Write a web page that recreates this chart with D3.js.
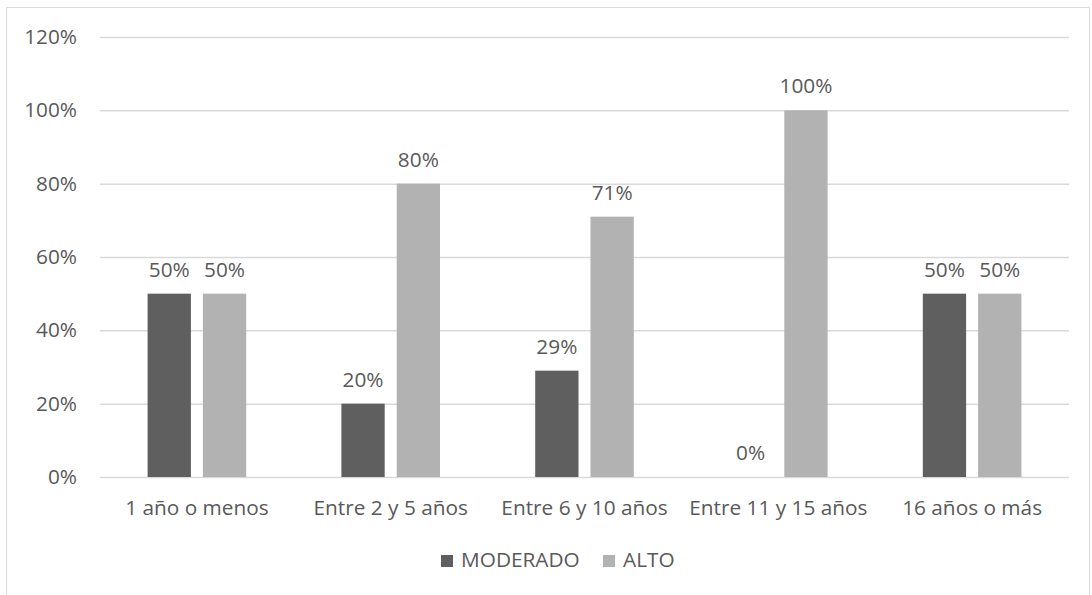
<!DOCTYPE html>
<html>
<head>
<meta charset="utf-8">
<script src="https://cdn.jsdelivr.net/npm/d3@7"></script>
<style>
  html, body { margin: 0; padding: 0; background: #fff; }
  svg { display: block; }
  text { font-family: "Open Sans", sans-serif; fill: #595959; }
</style>
</head>
<body>
<svg id="chart" width="1092" height="595"></svg>
<script>
// Years-of-experience groups and the share of each risk level
const categories = ["1 año o menos", "Entre 2 y 5 años", "Entre 6 y 10 años", "Entre 11 y 15 años", "16 años o más"];
const seriesNames = ["MODERADO", "ALTO"];
const moderado = [0.50, 0.20, 0.29, 0.00, 0.50];
const alto = [0.50, 0.80, 0.71, 1.00, 0.50];
const yTicks = [0, 0.2, 0.4, 0.6, 0.8, 1.0, 1.2];
const colors = ["#5f5f5f", "#b2b2b2"];

const svg = d3.select("#chart");
const fontSize = 20.8;

// chart frame
svg.append("rect")
  .attr("x", 6.5).attr("y", 7.5)
  .attr("width", 1083).attr("height", 620)
  .attr("fill", "#fff")
  .attr("stroke", "#d9d9d9").attr("stroke-width", 1);

const plot = { left: 100, right: 1069, top: 37, bottom: 477 };

const x = d3.scaleBand()
  .domain(categories)
  .range([plot.left, plot.right])
  .paddingInner(0).paddingOuter(0);

const y = d3.scaleLinear()
  .domain([0, 1.2])
  .range([plot.bottom, plot.top]);

const fmt = d3.format(".0%");

// horizontal gridlines + y labels
const yAxis = d3.axisLeft(y)
  .tickValues(yTicks)
  .tickFormat(fmt)
  .tickSize(-(plot.right - plot.left))
  .tickPadding(23);

const gy = svg.append("g")
  .attr("transform", `translate(${plot.left},0)`)
  .call(yAxis);
gy.select(".domain").remove();
gy.selectAll(".tick line").attr("stroke", "#d9d9d9").attr("stroke-width", 1.5);
gy.selectAll(".tick text")
  .attr("font-size", fontSize)
  .attr("fill", "#595959")
  .style("font-family", "'Open Sans', sans-serif");

// bars
const barW = 43.3, gap = 12;
const rows = categories.map((c, i) => ({ cat: c, vals: [moderado[i], alto[i]] }));

const groups = svg.append("g").selectAll("g")
  .data(rows).join("g")
  .attr("transform", d => `translate(${x(d.cat) + x.bandwidth() / 2},0)`);

groups.each(function (d) {
  const g = d3.select(this);
  d.vals.forEach((v, j) => {
    const bx = j === 0 ? -(gap / 2 + barW) : gap / 2;
    g.append("rect")
      .attr("x", bx)
      .attr("y", y(v))
      .attr("width", barW)
      .attr("height", y(0) - y(v))
      .attr("fill", colors[j]);
    g.append("text")
      .attr("x", bx + barW / 2)
      .attr("y", y(v) - 17)
      .attr("text-anchor", "middle")
      .attr("font-size", fontSize)
      .text(fmt(v));
  });
});

// category labels
const xAxis = d3.axisBottom(x).tickSize(0).tickPadding(0);
const gx = svg.append("g")
  .attr("transform", `translate(0,${plot.bottom})`)
  .call(xAxis);
gx.select(".domain").remove();
gx.selectAll(".tick text")
  .attr("font-size", fontSize)
  .attr("fill", "#595959")
  .attr("dy", null)
  .attr("y", 38)
  .style("font-family", "'Open Sans', sans-serif");

// legend
const legendItems = [
  { name: seriesNames[0], color: colors[0], sx: 441 },
  { name: seriesNames[1], color: colors[1], sx: 603 }
];
const lg = svg.append("g");
legendItems.forEach(it => {
  lg.append("rect")
    .attr("x", it.sx).attr("y", 555)
    .attr("width", 12).attr("height", 12)
    .attr("fill", it.color);
  lg.append("text")
    .attr("x", it.sx + 20).attr("y", 567)
    .attr("font-size", fontSize)
    .text(it.name);
});
</script>
</body>
</html>
